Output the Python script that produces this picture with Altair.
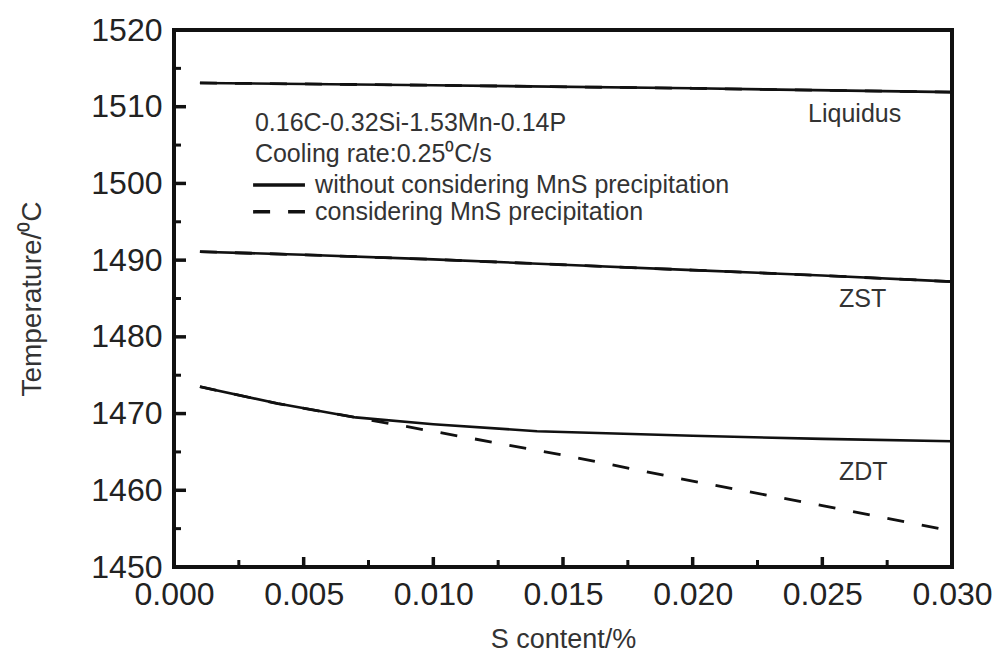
import altair as alt
import pandas as pd

# ---- data ----
liq_x = [0.001, 0.010, 0.020, 0.030]
liq_y = [1513.1, 1512.8, 1512.4, 1511.9]

zst_x = [0.001, 0.005, 0.010, 0.015, 0.020, 0.025, 0.030]
zst_y = [1491.1, 1490.7, 1490.1, 1489.4, 1488.7, 1488.0, 1487.2]

zdt_x = [0.001, 0.004, 0.007, 0.010, 0.014, 0.020, 0.025, 0.030]
zdt_y = [1473.5, 1471.3, 1469.5, 1468.6, 1467.7, 1467.1, 1466.7, 1466.4]

mns_x = [0.001, 0.004, 0.007, 0.008, 0.015, 0.020, 0.025, 0.030]
mns_y = [1473.5, 1471.3, 1469.5, 1468.9, 1464.6, 1461.2, 1458.0, 1454.7]

y_major = [1450, 1460, 1470, 1480, 1490, 1500, 1510, 1520]
y_minor = [1455, 1465, 1475, 1485, 1495, 1505, 1515]
x_major = [0.000, 0.005, 0.010, 0.015, 0.020, 0.025, 0.030]
x_minor = [0.0025, 0.0075, 0.0125, 0.0175, 0.0225, 0.0275]

ann_text = ["0.16C-0.32Si-1.53Mn-0.14P", "Cooling rate:0.25⁰C/s",
            "without considering MnS precipitation", "considering MnS precipitation",
            "Liquidus", "ZST", "ZDT"]
ann_x = [0.00312, 0.00312, 0.00544, 0.00544, 0.02445, 0.02564, 0.02564]
ann_y = [1507.9, 1503.9, 1499.8, 1496.3, 1509.0, 1484.9, 1462.4]

leg_x, leg_x2 = 0.00305, 0.00505
leg_y = [1499.8, 1496.3]

FONT = "Liberation Sans"
W, H = 778, 537

rows = []
for name, xs_, ys_ in [("Liquidus", liq_x, liq_y), ("ZST", zst_x, zst_y), ("ZDT", zdt_x, zdt_y)]:
    for a, b in zip(xs_, ys_):
        rows.append({"curve": name, "x": a, "y": b})
solid_df = pd.DataFrame(rows)

drows = []
for name, xs_, ys_ in [("Liquidus", liq_x, liq_y), ("ZST", zst_x, zst_y), ("ZDT", mns_x, mns_y)]:
    for a, b in zip(xs_, ys_):
        drows.append({"curve": name, "x": a, "y": b})
dash_df = pd.DataFrame(drows)

xs = alt.Scale(domain=[0, 0.030], nice=False, zero=False)
ys = alt.Scale(domain=[1450, 1520], nice=False, zero=False)

xaxis = alt.Axis(title="S content/%", values=x_major, format=".3f", tickSize=0, domain=False,
                 grid=False, labelFont=FONT, labelFontSize=32, labelColor="#222",
                 labelFlush=False, labelOverlap=False,
                 labelPadding=12, titleFont=FONT, titleFontSize=27, titleFontWeight="normal",
                 titleColor="#333", titlePadding=16)
yaxis = alt.Axis(title="Temperature/⁰C", values=y_major, format="d", tickSize=0, domain=False,
                 grid=False, labelFont=FONT, labelFontSize=32, labelColor="#222",
                 labelFlush=False, labelOverlap=False,
                 labelPadding=12, titleFont=FONT, titleFontSize=28, titleFontWeight="normal",
                 titleColor="#333", titlePadding=44)

solid = alt.Chart(solid_df).mark_line(color="#111", strokeWidth=2.6).encode(
    x=alt.X("x:Q", scale=xs, axis=xaxis),
    y=alt.Y("y:Q", scale=ys, axis=yaxis),
    detail="curve:N",
)
dashed = alt.Chart(dash_df).mark_line(color="#111", strokeWidth=2.8, strokeDash=[17, 18]).encode(
    x=alt.X("x:Q", scale=xs), y=alt.Y("y:Q", scale=ys), detail="curve:N"
)

# inward ticks
ymaj = alt.Chart(pd.DataFrame({"v": y_major[1:-1]})).mark_rule(color="#111", strokeWidth=3.5).encode(
    y=alt.Y("v:Q", scale=ys), x=alt.value(0), x2=alt.value(12))
ymin = alt.Chart(pd.DataFrame({"v": y_minor})).mark_rule(color="#111", strokeWidth=3).encode(
    y=alt.Y("v:Q", scale=ys), x=alt.value(0), x2=alt.value(7))
xmaj = alt.Chart(pd.DataFrame({"v": x_major[1:-1]})).mark_rule(color="#111", strokeWidth=3.5).encode(
    x=alt.X("v:Q", scale=xs), y=alt.value(H), y2=alt.value(H - 10))
xmin = alt.Chart(pd.DataFrame({"v": x_minor})).mark_rule(color="#111", strokeWidth=3).encode(
    x=alt.X("v:Q", scale=xs), y=alt.value(H), y2=alt.value(H - 7))

ann = alt.Chart(pd.DataFrame({"t": ann_text, "x": ann_x, "y": ann_y})).mark_text(
    align="left", baseline="middle", font=FONT, fontSize=25, color="#333").encode(
    x=alt.X("x:Q", scale=xs), y=alt.Y("y:Q", scale=ys), text="t:N")

leg_solid = alt.Chart(pd.DataFrame({"x": [leg_x], "x2": [leg_x2], "y": [leg_y[0]]})).mark_rule(
    color="#111", strokeWidth=3.5).encode(x=alt.X("x:Q", scale=xs), x2="x2:Q", y=alt.Y("y:Q", scale=ys))
leg_dash = alt.Chart(pd.DataFrame({"x": [leg_x], "x2": [leg_x2], "y": [leg_y[1]]})).mark_rule(
    color="#111", strokeWidth=3.5, strokeDash=[17, 18]).encode(x=alt.X("x:Q", scale=xs), x2="x2:Q", y=alt.Y("y:Q", scale=ys))

chart = alt.layer(solid, dashed, ymaj, ymin, xmaj, xmin, ann, leg_solid, leg_dash).properties(
    width=W, height=H,
    padding={"left": 166, "top": 22, "right": 40, "bottom": 90},
    autosize="none",
).configure(background="white").configure_view(stroke="#111", strokeWidth=4)

chart.save("out.html", embed_options={"renderer": "svg", "actions": False})
